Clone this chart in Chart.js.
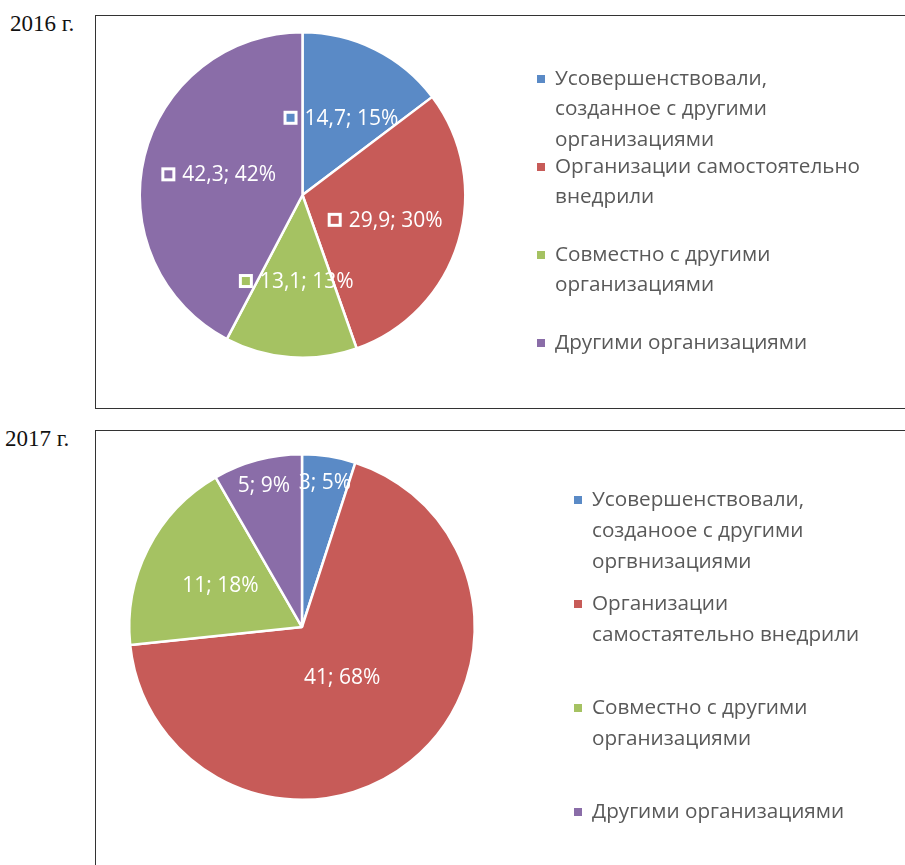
<!DOCTYPE html>
<html>
<head>
<meta charset="utf-8">
<script src="https://cdn.jsdelivr.net/npm/chart.js@4"></script>
<style>
  body { margin: 0; background: #fff; width: 905px; height: 865px; overflow: hidden; position: relative; }
  .year { position: absolute; font-family: "Liberation Serif", serif; font-size: 23px; color: #111; }
  .box { position: absolute; border: 1px solid #333; box-sizing: border-box; }
  canvas { display: block; }
</style>
</head>
<body>
<div class="year" style="left:10px; top:11px;">2016 г.</div>
<div class="box" style="left:95px; top:15px; width:815px; height:394px;">
  <canvas id="chart2016" width="813" height="392"></canvas>
</div>
<div class="year" style="left:5px; top:426px;">2017 г.</div>
<div class="box" style="left:95px; top:430px; width:815px; height:460px;">
  <canvas id="chart2017" width="813" height="458"></canvas>
</div>
<script>
// 2016 г.
const labels2016 = [
    ['Усовершенствовали,', 'созданное с другими', 'организациями'],
    ['Организации самостоятельно', 'внедрили'],
    ['Совместно с другими', 'организациями'],
    ['Другими организациями']
];
const values2016 = [14.7, 29.9, 13.1, 42.3];
const percents2016 = [15, 30, 13, 42];

// 2017 г.
const labels2017 = [
    ['Усовершенствовали,', 'созданоое с другими', 'оргвнизациями'],
    ['Организации', 'самостаятельно внедрили'],
    ['Совместно с другими', 'организациями'],
    ['Другими организациями']
];
const values2017 = [3, 41, 11, 5];
const percents2017 = [5, 68, 18, 9];

const colors = ['#5a8ac6', '#c75b58', '#a5c262', '#8a6da8'];
const fontName = '"Open Sans", "Noto Sans", sans-serif';

// подписи данных внутри секторов
const sliceLabels = {
    id: 'sliceLabels',
    afterDatasetsDraw(chart, args, opts) {
        const ctx = chart.ctx;
        const meta = chart.getDatasetMeta(0);
        ctx.save();
        ctx.font = opts.fontSize + 'px ' + fontName;
        ctx.textBaseline = 'middle';
        meta.data.forEach((arc, i) => {
            const p = arc.getProps(['x', 'y', 'startAngle', 'endAngle', 'outerRadius'], true);
            const mid = (p.startAngle + p.endAngle) / 2;
            const frac = (p.endAngle - p.startAngle) / (2 * Math.PI);
            let k = 0.53;
            if (frac < 0.1) k = 0.85;
            else if (frac > 0.5) k = 0.37;
            const cx = p.x + Math.cos(mid) * p.outerRadius * k;
            const cy = p.y + Math.sin(mid) * p.outerRadius * k;
            const value = String(chart.data.datasets[0].data[i]).replace('.', ',');
            const text = value + '; ' + opts.percents[i] + '%';
            const tw = ctx.measureText(text).width;
            const key = opts.showKey ? 21 : 0;
            let x = cx - (tw + key) / 2;
            if (opts.showKey) {
                ctx.fillStyle = '#fff';
                ctx.fillRect(x, cy - 7, 14, 14);
                ctx.fillStyle = colors[i];
                ctx.fillRect(x + 3, cy - 4, 8, 8);
                x += key;
            }
            ctx.fillStyle = '#fff';
            ctx.textAlign = 'left';
            ctx.fillText(text, x, cy + 1);
        });
        ctx.restore();
    }
};

// легенда справа, пункты с равным шагом
const sideLegend = {
    id: 'sideLegend',
    afterDraw(chart, args, opts) {
        const ctx = chart.ctx;
        ctx.save();
        ctx.font = opts.fontSize + 'px ' + fontName;
        ctx.textBaseline = 'middle';
        ctx.textAlign = 'left';
        chart.data.labels.forEach((lines, i) => {
            const y0 = opts.top + i * opts.step;
            ctx.fillStyle = colors[i];
            ctx.fillRect(opts.left, y0 - 4, 8, 8);
            ctx.fillStyle = '#595959';
            lines.forEach((line, j) => {
                ctx.fillText(line, opts.left + 18, y0 + j * opts.lineHeight);
            });
        });
        ctx.restore();
    }
};

function makePie(id, labels, values, percents, padding, legendOpts, showKey) {
    new Chart(document.getElementById(id).getContext('2d'), {
        type: 'pie',
        data: {
            labels: labels,
            datasets: [{
                data: values,
                backgroundColor: colors,
                borderColor: '#fff',
                borderWidth: 2.5
            }]
        },
        options: {
            responsive: false,
            animation: false,
            devicePixelRatio: 1,
            rotation: 0,
            layout: { padding: padding },
            plugins: {
                legend: { display: false },
                tooltip: { enabled: false },
                sliceLabels: { percents: percents, showKey: showKey, fontSize: 21 },
                sideLegend: legendOpts
            }
        },
        plugins: [sliceLabels, sideLegend]
    });
}

makePie('chart2016', labels2016, values2016, percents2016,
    { left: 41, top: 15, right: 441, bottom: 49 },
    { left: 441, top: 63, step: 88, lineHeight: 30.5, fontSize: 20.7 }, true);

makePie('chart2017', labels2017, values2017, percents2017,
    { left: 32, top: 22, right: 433, bottom: 88 },
    { left: 478, top: 69, step: 104, lineHeight: 31, fontSize: 20.7 }, false);
</script>
</body>
</html>
